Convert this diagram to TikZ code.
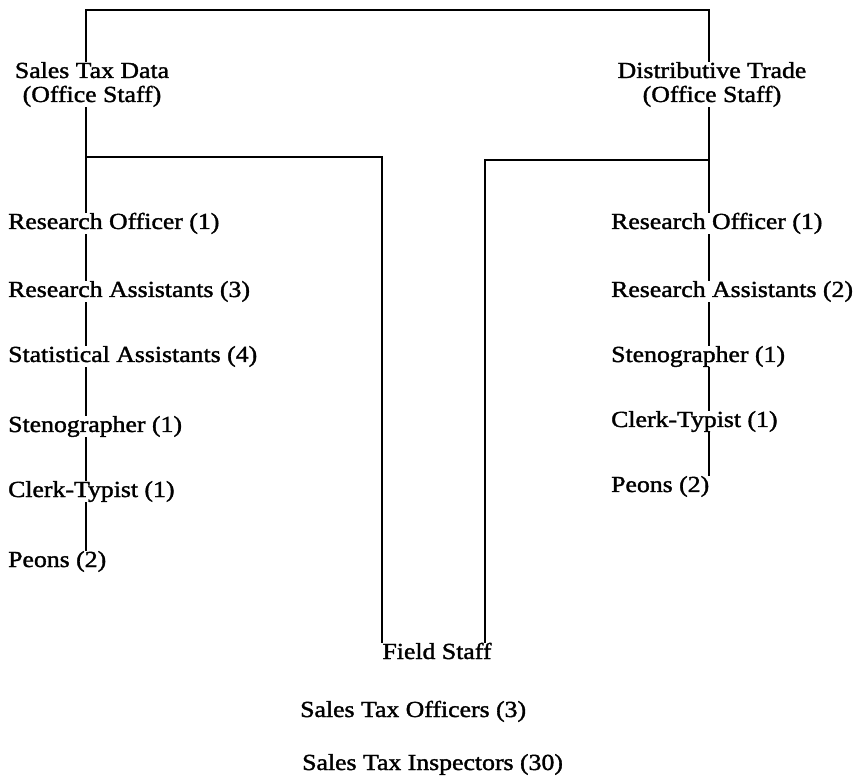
\documentclass[tikz,border=0pt]{standalone}
\usepackage{fontspec}
\setmainfont{Liberation Serif}[FakeStretch=1.12,FakeBold=1.5]
\usetikzlibrary{calc}

\begin{document}
\begin{tikzpicture}[x=1pt,y=-1pt,
  staff/.style={anchor=base west,inner sep=0pt,font=\fontsize{23}{21}\selectfont},
  head/.style={staff,anchor=base,align=center,font=\fontsize{23}{24}\selectfont},
  link/.style={line width=1.7pt}]
\useasboundingbox (0,0) rectangle (860,783);

% draw line positions
\coordinate (tl) at (86,10);
\coordinate (tr) at (709,10);
\coordinate (hl) at (382,157);
\coordinate (hr) at (485,160);

% draw Sales Tax Data
\node[head] (std) at (92,102) {Sales Tax Data\\(Office Staff)};
\node[staff] (ro1) at (8,229) {Research Officer (1)};
\node[staff] (ra1) at (8,297) {Research Assistants (3)};
\node[staff] (sa1) at (8,362) {Statistical Assistants (4)};
\node[staff] (st1) at (8,432) {Stenographer (1)};
\node[staff] (ct1) at (8,497) {Clerk-Typist (1)};
\node[staff] (pe1) at (8,567) {Peons (2)};

% draw Distributive Trade
\node[head] (dt) at (712,102) {Distributive Trade\\(Office Staff)};
\node[staff] (ro2) at (611,229) {Research Officer (1)};
\node[staff] (ra2) at (611,297) {Research Assistants (2)};
\node[staff] (st2) at (611,362) {Stenographer (1)};
\node[staff] (ct2) at (611,427) {Clerk-Typist (1)};
\node[staff] (pe2) at (611,492) {Peons (2)};

% draw Field Staff
\node[staff,anchor=base] (fs) at (437,659) {Field Staff};
\node[staff] (so) at (300,717) {Sales Tax Officers (3)};
\node[staff] (si) at (302,770) {Sales Tax Inspectors (30)};

% draw top line
\draw[link] (std.north -| tl) -- (tl) -- (tr) -- (dt.north -| tr);

% draw T lines
\draw[link] (std.south -| tl) -- (tl |- hl) -- (hl) -- (fs.north -| hl);
\draw[link] (dt.south -| tr) -- (tr |- hr) -- (hr) -- (fs.north -| hr);
\draw[link] (tl |- hl) -- (ro1.north -| tl);
\draw[link] (tr |- hr) -- (ro2.north -| tr);

% draw columns
\foreach \a/\b in {ro1/ra1,ra1/sa1,sa1/st1,st1/ct1,ct1/pe1}
  \draw[link] (\a.south -| tl) -- (\b.north -| tl);
\foreach \a/\b in {ro2/ra2,ra2/st2,st2/ct2,ct2/pe2}
  \draw[link] (\a.south -| tr) -- (\b.north -| tr);

\end{tikzpicture}
\end{document}
